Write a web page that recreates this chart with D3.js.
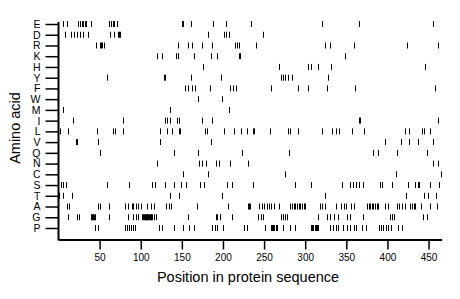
<!DOCTYPE html>
<html><head><meta charset="utf-8">
<script src="https://cdn.jsdelivr.net/npm/d3@7"></script>
<style>html,body{margin:0;padding:0;background:#fff;}svg{display:block;}</style>
</head><body>
<svg id="chart" width="460" height="299"></svg>
<script>
const aminoAcids = ["E","D","R","K","H","Y","F","W","M","I","L","V","Q","N","C","S","T","A","G","P"];
const xTicks = [50,100,150,200,250,300,350,400,450];
const seqLength = 466;

const posE = [5,10,24,26,28,30,32,34,39,62,64,66,68,71,150,152,161,188,204,234,321,366,456];
const posD = [8,15,19,22,26,30,36,63,67,72,74,75,182,201,204,207,249];
const posR = [45,51,52,53,55,145,158,162,174,187,215,217,219,240,324,330,359,424,461];
const posK = [120,126,143,145,165,185,193,219,221,348];
const posH = [176,268,304,307,315,331,446];
const posY = [59,128,130,161,198,270,273,276,279,284,328];
const posF = [154,158,162,166,184,208,212,216,258,291,303,326,361,458];
const posW = [170,199];
const posM = [6,136,207];
const posI = [18,78,130,132,135,144,147,174,187,365,367,461];
const posL = [2,12,47,66,69,79,123,132,138,146,148,178,180,201,214,222,229,237,238,257,279,282,291,321,333,337,341,357,372,421,426,442,445,452];
const posV = [21,22,48,124,185,397,416,426,437,455];
const posQ = [51,140,170,223,280,382,388,412,448];
const posN = [120,171,175,179,191,195,208,230,456,462];
const posC = [152,182,276,410,465];
const posS = [3,6,9,59,86,114,117,129,141,149,155,172,177,205,211,236,288,307,345,355,358,362,365,370,391,393,405,425,434,437,439,452,463];
const posT = [1,5,17,135,147,199,324,423,445,449,459];
const posA = [10,13,48,51,61,81,84,89,91,94,97,100,108,112,116,131,134,137,168,206,230,232,233,244,247,250,254,256,258,262,268,282,284,286,288,290,292,294,296,298,300,318,321,324,337,344,347,350,356,359,375,377,379,381,383,385,387,389,397,401,412,414,418,421,428,430,432,434,441,452,460];
const posG = [12,23,25,39,40,41,42,43,44,62,84,90,94,97,101,103,104,105,106,107,108,109,110,111,112,113,114,116,118,157,191,193,196,211,243,246,249,270,273,275,278,316,326,330,335,340,351,354,370,403,405,406,408,443,448];
const posP = [44,48,81,83,86,88,91,93,122,126,140,152,159,165,187,190,193,200,225,229,251,259,260,261,262,264,265,266,273,282,287,307,308,309,310,312,313,314,315,330,334,337,340,346,351,354,359,362,369,374,390,392,395,398,401,404,413,418];

const positions = {E:posE,D:posD,R:posR,K:posK,H:posH,Y:posY,F:posF,W:posW,M:posM,I:posI,L:posL,V:posV,Q:posQ,N:posN,C:posC,S:posS,T:posT,A:posA,G:posG,P:posP};

const svg = d3.select("#chart");
const font = "'Liberation Sans', Arial, Helvetica, sans-serif";

const x = d3.scaleLinear().domain([0, seqLength]).range([58.5, 441.7]);
const y = d3.scalePoint().domain(aminoAcids).range([24, 228]);

const marks = [];
aminoAcids.forEach(a => positions[a].forEach(p => marks.push({a, p})));

svg.append("g").selectAll("line").data(marks).join("line")
  .attr("x1", d => Math.round(x(d.p)) + 0.5).attr("x2", d => Math.round(x(d.p)) + 0.5)
  .attr("y1", d => y(d.a) - 3).attr("y2", d => y(d.a) + 3)
  .attr("stroke", "#000").attr("stroke-width", 1);

// y axis
const yAxis = svg.append("g").attr("transform", "translate(58.5,0)")
  .call(d3.axisLeft(y).tickSize(13).tickPadding(5));
yAxis.select(".domain").remove();
yAxis.selectAll(".tick line").attr("stroke", "#000").attr("stroke-width", 1.5);
yAxis.selectAll(".tick text").attr("font-family", font).attr("font-size", 10.5).attr("fill", "#000");
svg.append("line").attr("x1", 58.5).attr("x2", 58.5).attr("y1", 22).attr("y2", 240.5)
  .attr("stroke", "#000").attr("stroke-width", 2);

// x axis
const xAxis = svg.append("g").attr("transform", "translate(0,239.5)")
  .call(d3.axisBottom(x).tickValues(xTicks).tickSize(10).tickSizeOuter(0).tickPadding(4));
xAxis.select(".domain").attr("stroke", "#000").attr("stroke-width", 2);
xAxis.selectAll(".tick line").attr("stroke", "#000").attr("stroke-width", 1.5);
xAxis.selectAll(".tick text").attr("font-family", font).attr("font-size", 10).attr("fill", "#000");

svg.append("text").attr("x", 248).attr("y", 282).attr("text-anchor", "middle")
  .attr("font-family", font).attr("font-size", 14.5).text("Position in protein sequence");
svg.append("text").attr("transform", "translate(20,128) rotate(-90)").attr("text-anchor", "middle")
  .attr("font-family", font).attr("font-size", 14.5).text("Amino acid");
</script>
</body></html>
